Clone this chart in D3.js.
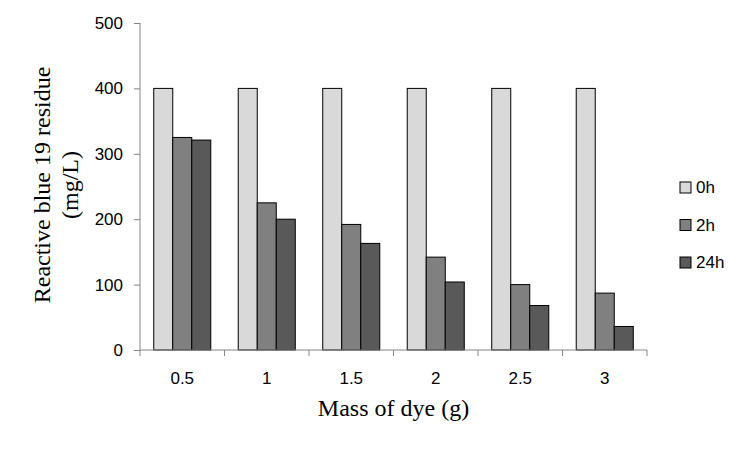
<!DOCTYPE html>
<html>
<head>
<meta charset="utf-8">
<script src="https://cdn.jsdelivr.net/npm/d3@7"></script>
<style>
  body { margin: 0; background: #fff; }
  .tick text { font-family: "Liberation Sans", Arial, sans-serif; font-size: 17px; fill: #000; }
</style>
</head>
<body>
<div id="chart"></div>
<script>
// data
const masses = ['0.5', '1', '1.5', '2', '2.5', '3'];
const seriesNames = ['0h', '2h', '24h'];
const values0h = [400, 400, 400, 400, 400, 400];
const values2h = [325, 225, 192, 142, 100, 87];
const values24h = [321, 200, 163, 104, 68, 36];
const yTicks = [0, 100, 200, 300, 400, 500];
const colors = ['#d9d9d9', '#808080', '#595959'];

const width = 750, height = 449;
const margin = { left: 140, right: 103, top: 23, bottom: 99 };
const innerW = width - margin.left - margin.right;
const innerH = height - margin.top - margin.bottom;

const svg = d3.select('#chart').append('svg')
  .attr('width', width)
  .attr('height', height);

const g = svg.append('g')
  .attr('transform', `translate(${margin.left}, ${margin.top})`);

const xScale = d3.scaleBand().domain(masses).range([0, innerW]).padding(0);
const barW = xScale.bandwidth() * 0.225;
const xInner = d3.scaleBand().domain(seriesNames)
  .range([(xScale.bandwidth() - 3 * barW) / 2, (xScale.bandwidth() + 3 * barW) / 2]);
const yScale = d3.scaleLinear().domain([0, 500]).range([innerH, 0]);

// y axis
const yAxis = g.append('g')
  .call(d3.axisLeft(yScale).tickValues(yTicks).tickSize(6).tickPadding(11).tickFormat(d3.format('d')));
yAxis.selectAll('line, path').attr('stroke', '#868686');
yAxis.select('.domain').attr('d', `M0,${innerH}V0`);

// bars
const rows = masses.map((m, i) => ({ mass: m, vals: [values0h[i], values2h[i], values24h[i]] }));
const groups = g.selectAll('.grp').data(rows).join('g')
  .attr('class', 'grp')
  .attr('transform', d => `translate(${xScale(d.mass)}, 0)`);

groups.selectAll('rect').data(d => d.vals.map((v, k) => ({ name: seriesNames[k], v, k })))
  .join('rect')
  .attr('x', d => xInner(d.name))
  .attr('y', d => yScale(d.v))
  .attr('width', xInner.bandwidth())
  .attr('height', d => innerH - yScale(d.v))
  .attr('fill', d => colors[d.k])
  .attr('stroke', '#000')
  .attr('stroke-width', 1);

// x axis with ticks between categories
const xAxis = g.append('g').attr('transform', `translate(0, ${innerH})`);
xAxis.append('path').attr('d', `M0,0H${innerW}`).attr('stroke', '#868686').attr('fill', 'none');
const bounds = d3.range(masses.length + 1).map(i => i * xScale.step());
xAxis.selectAll('.xt').data(bounds).join('line')
  .attr('x1', d => d).attr('x2', d => d)
  .attr('y1', 0).attr('y2', 6)
  .attr('stroke', '#868686');
xAxis.selectAll('.xl').data(masses).join('text')
  .attr('x', d => xScale(d) + xScale.bandwidth() / 2)
  .attr('y', 34)
  .attr('text-anchor', 'middle')
  .style('font-family', '"Liberation Sans", Arial, sans-serif')
  .style('font-size', '17px')
  .text(d => d);

// axis titles
svg.append('text')
  .attr('x', margin.left + innerW / 2)
  .attr('y', 416)
  .attr('text-anchor', 'middle')
  .style('font-family', '"Liberation Serif", "Times New Roman", serif')
  .style('font-size', '24px')
  .text('Mass of dye (g)');

const yTitle = svg.append('text')
  .attr('transform', 'translate(50, 185) rotate(-90)')
  .attr('text-anchor', 'middle')
  .style('font-family', '"Liberation Serif", "Times New Roman", serif')
  .style('font-size', '24px');
yTitle.append('tspan').attr('x', 0).attr('dy', 0).text('Reactive blue 19 residue');
yTitle.append('tspan').attr('x', 0).attr('dy', 28).text('(mg/L)');

// legend
const legend = svg.append('g').attr('transform', 'translate(680, 182)');
const items = legend.selectAll('g').data(seriesNames).join('g')
  .attr('transform', (d, i) => `translate(0, ${i * 37.5})`);
items.append('rect')
  .attr('width', 11).attr('height', 11)
  .attr('fill', (d, i) => colors[i])
  .attr('stroke', '#000').attr('stroke-width', 1);
items.append('text')
  .attr('x', 16).attr('y', 11)
  .style('font-family', '"Liberation Sans", Arial, sans-serif')
  .style('font-size', '17px')
  .text(d => d);
</script>
</body>
</html>
